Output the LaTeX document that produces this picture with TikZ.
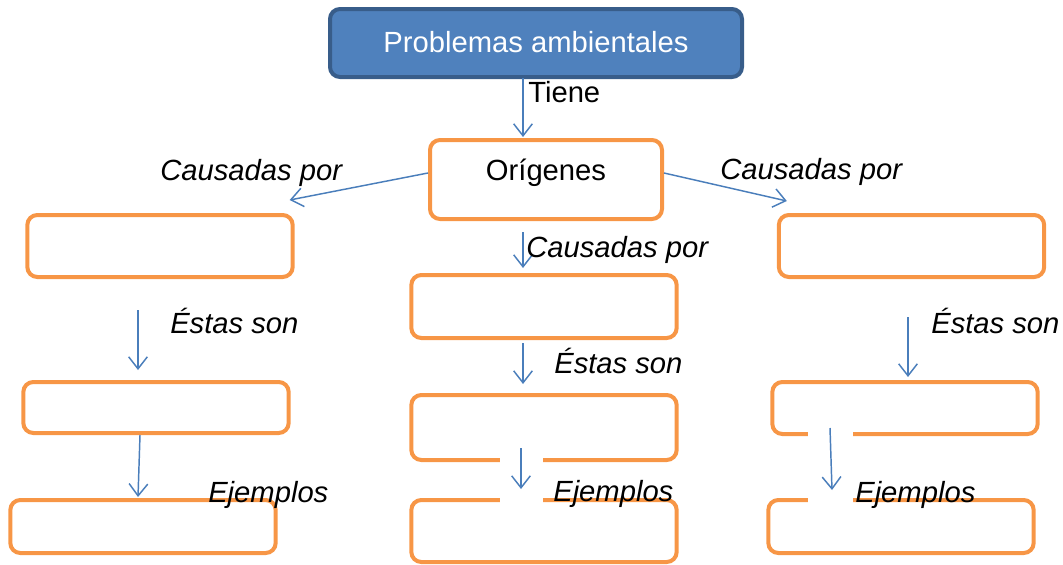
\documentclass[tikz,border=0pt]{standalone}
\usepackage{fontspec}
\setmainfont{Liberation Sans}
\usetikzlibrary{arrows.meta,calc}
\definecolor{naranja}{HTML}{F79646}
\definecolor{azulfondo}{HTML}{4F81BD}
\definecolor{azulborde}{HTML}{385D8A}
\definecolor{azulflecha}{HTML}{4A7EBB}
\begin{document}
\begin{tikzpicture}[x=0.75pt, y=-0.75pt,
        caja/.style={draw=naranja, line width=3pt, rounded corners=7.5pt, minimum width=199pt, inner sep=0pt},
        flecha/.style={draw=azulflecha, line width=1.1pt, -{Straight Barb[length=9pt, width=14pt]}},
        texto/.style={font=\fontsize{21.9}{26}\selectfont, inner sep=0pt, anchor=base west},
        etiqueta/.style={texto, font=\fontsize{21.9}{26}\selectfont\itshape}]
    \useasboundingbox (0,0) rectangle (1063,564);
    % cajas
    \node[fill=azulfondo, draw=azulborde, line width=3pt, rounded corners=7.5pt, minimum width=309pt, minimum height=51pt,
          text=white, font=\fontsize{21.9}{26}\selectfont, text height=17pt, text depth=3.5pt] (prob) at (536,43) {Problemas ambientales};
    \node[caja, minimum width=174pt, minimum height=59.25pt, font=\fontsize{21.9}{26}\selectfont,
          text height=16pt, text depth=14pt] (ori) at (546,179.5) {Orígenes};
    \node[caja, minimum height=46.5pt] (l2) at (160,246) {};
    \node[caja, minimum height=46.5pt] (r2) at (911.5,246) {};
    \node[caja, minimum height=47.25pt] (m2) at (544,306.5) {};
    \node[caja, minimum height=38.25pt] (l3) at (156,407.5) {};
    \node[caja, minimum height=48.75pt] (m3) at (544,427.5) {};
    \node[caja, minimum height=39pt] (r3) at (905,408) {};
    \node[caja, minimum height=39.75pt] (l4) at (143,526.5) {};
    \node[caja, minimum height=46.5pt] (m4) at (544,531) {};
    \node[caja, minimum height=39.75pt] (r4) at (901,526.5) {};
    % huecos en los bordes
    \fill[white] (500,455) rectangle (543,505);
    \fill[white] (808,430) rectangle (853,505);
    % flechas
    \draw[flecha] ($(prob.south)+(-13,-1)$) -- ($(ori.north)+(-23,-1)$);
    \draw[flecha] ($(ori.west)+(0,-6.5)$) -- ($(l2.north east)+(-5,-13)$);
    \draw[flecha] ($(ori.east)+(0,-6.5)$) -- ($(r2.north west)+(10,-12)$);
    \draw[flecha] ($(ori.south)+(-23,11)$) -- ($(m2.north)+(-21,-5)$);
    \draw[flecha] ($(m2.south)+(-21,3)$) -- ($(m3.north)+(-21,-9)$);
    \draw[flecha] ($(m3.south)+(-23,-14)$) -- ($(m4.north)+(-23,-9)$);
    \draw[flecha] ($(l2.south)+(-22,31)$) -- ($(l3.north)+(-18,-10)$);
    \draw[flecha] ($(l3.south)+(-16,0)$) -- ($(l4.north)+(-5,-1)$);
    \draw[flecha] ($(r2.south)+(-3.5,38)$) -- ($(r3.north)+(3,-3)$);
    \draw[flecha] ($(r3.south)+(-75,-8)$) -- ($(r4.north)+(-69,-8)$);
    % etiquetas
    \node[texto] (tiene) at (528,102) {Tiene};
    \node[etiqueta] (causl) at (160,180) {Causadas por};
    \node[etiqueta] (causr) at (720,179) {Causadas por};
    \node[etiqueta] (causm) at (526,257) {Causadas por};
    \node[etiqueta] (estl) at (170,333) {Éstas son};
    \node[etiqueta] (estm) at (554,373) {Éstas son};
    \node[etiqueta] (estr) at (931,333) {Éstas son};
    \node[etiqueta] (ejel) at (208,502) {Ejemplos};
    \node[etiqueta] (ejem) at (553,501) {Ejemplos};
    \node[etiqueta] (ejer) at (855,502) {Ejemplos};
\end{tikzpicture}
\end{document}
